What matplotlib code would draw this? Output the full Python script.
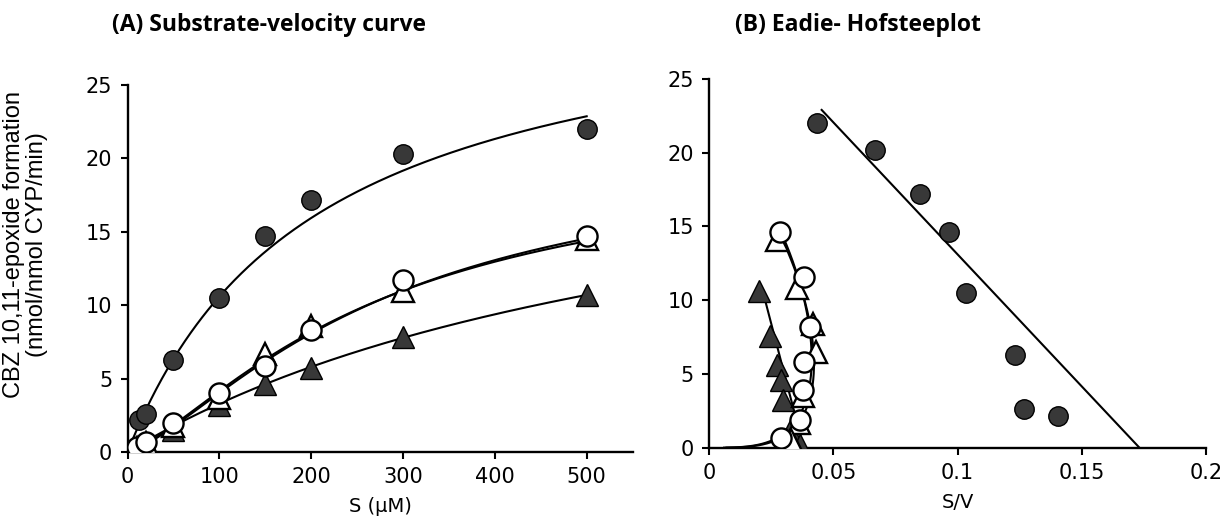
import numpy as np
import matplotlib
matplotlib.use("Agg")
import matplotlib.pyplot as plt

# ---- data ----
# (A) substrate-velocity: S (uM) vs V (nmol/nmol CYP/min)
s_filled_circle = [13, 20, 50, 100, 150, 200, 300, 500]
v_filled_circle = [2.2, 2.6, 6.3, 10.5, 14.7, 17.2, 20.3, 22.0]
s_conc = [10, 20, 50, 100, 150, 200, 300, 500]
v_open_circle = [0.35, 0.7, 2.0, 4.0, 5.85, 8.3, 11.7, 14.7]
v_open_tri = [0.3, 0.6, 1.8, 3.7, 6.7, 8.6, 11.0, 14.5]
v_filled_tri = [0.2, 0.5, 1.5, 3.2, 4.6, 5.7, 7.8, 10.7]

# (B) Eadie-Hofstee: x = S/V axis value, y = V
b_filled_circle_x = [0.0433, 0.0668, 0.085, 0.0966, 0.1035, 0.123, 0.1267, 0.1405]
b_filled_circle_y = [22.0, 20.2, 17.2, 14.6, 10.5, 6.3, 2.6, 2.15]
b_open_circle_x = [0.0283, 0.0381, 0.0405, 0.0382, 0.0378, 0.0365, 0.029]
b_open_circle_y = [14.65, 11.6, 8.2, 5.8, 3.9, 1.9, 0.63]
b_open_tri_x = [0.0274, 0.0354, 0.0419, 0.043, 0.0376, 0.036, 0.033]
b_open_tri_y = [14.1, 10.8, 8.4, 6.5, 3.5, 1.7, 0.5]
b_filled_tri_x = [0.0201, 0.0244, 0.0274, 0.0288, 0.0296, 0.0325, 0.0365]
b_filled_tri_y = [10.6, 7.6, 5.6, 4.6, 3.2, 1.1, 0.2]

# fitted kinetic parameters (Vmax, Km/S50, Hill n)
fit_filled_circle = (32.2, 204, 1.0)
fit_open_circle = (21.0, 280, 1.4)
fit_open_tri = (20.5, 270, 1.38)
fit_filled_tri = (24.5, 645, 1.0)
line_b_vmax, line_b_km = 31.0, 179.0   # straight line drawn in (B)


def hill(s, vmax, k, n):
    return vmax * s**n / (k**n + s**n)


plt.rcParams['font.family'] = 'DejaVu Sans'
fig = plt.figure(figsize=(12.25, 5.26), dpi=100)
ax1 = fig.add_axes([0.1041, 0.1407, 0.4123, 0.6977])
ax2 = fig.add_axes([0.5790, 0.1489, 0.4055, 0.7010])

dark = '#383838'
msz = 14
filled_c = dict(marker='o', ms=msz, mfc=dark, mec='black', mew=1, ls='none', zorder=5)
open_c = dict(marker='o', ms=msz + 0.5, mfc='white', mec='black', mew=1.7, ls='none', zorder=6)
filled_t = dict(marker='^', ms=msz + 1.5, mfc=dark, mec='black', mew=1, ls='none', zorder=4)
open_t = dict(marker='^', ms=msz + 1.5, mfc='white', mec='black', mew=1.7, ls='none', zorder=5)
curve = dict(color='black', lw=1.5, zorder=3)

# ---- panel A ----
s_fine = np.linspace(0, 500, 400)
for p in (fit_filled_circle, fit_open_circle, fit_open_tri, fit_filled_tri):
    ax1.plot(s_fine, hill(s_fine, *p), **curve)
ax1.plot(s_conc, v_filled_tri, **filled_t)
ax1.plot(s_conc, v_open_tri, **open_t)
ax1.plot(s_conc, v_open_circle, **open_c)
ax1.plot(s_filled_circle, v_filled_circle, **filled_c)
ax1.set_xlim(0, 550)
ax1.set_ylim(0, 25)
ax1.set_xticks([0, 100, 200, 300, 400, 500])
ax1.set_yticks([0, 5, 10, 15, 20, 25])
ax1.set_xlabel('S (\u03bcM)', fontsize=14, labelpad=7)

# ---- panel B ----
s_fine2 = np.linspace(0.5, 500, 800)
for p in (fit_open_circle, fit_open_tri, fit_filled_tri):
    v = hill(s_fine2, *p)
    ax2.plot(v / s_fine2, v, **curve)
v_line = np.linspace(0, 22.9, 50)
ax2.plot((line_b_vmax - v_line) / line_b_km, v_line, **curve)
ax2.plot(b_filled_tri_x, b_filled_tri_y, **filled_t)
ax2.plot(b_open_tri_x, b_open_tri_y, **open_t)
ax2.plot(b_open_circle_x, b_open_circle_y, **open_c)
ax2.plot(b_filled_circle_x, b_filled_circle_y, **filled_c)
ax2.set_xlim(0, 0.2)
ax2.set_ylim(0, 25)
ax2.set_xticks([0, 0.05, 0.1, 0.15, 0.2])
ax2.set_xticklabels(['0', '0.05', '0.1', '0.15', '0.2'])
ax2.set_yticks([0, 5, 10, 15, 20, 25])
ax2.set_xlabel('S/V', fontsize=14, labelpad=7)

for ax in (ax1, ax2):
    ax.spines['top'].set_visible(False)
    ax.spines['right'].set_visible(False)
    ax.spines['left'].set_linewidth(1.7)
    ax.spines['bottom'].set_linewidth(1.7)
    ax.tick_params(direction='out', length=5, width=1.5, labelsize=15, pad=6)
    for sp in ('left', 'bottom'):
        ax.spines[sp].set_clip_on(False)

fig.text(0.021, 0.536, 'CBZ 10,11-epoxide formation\n(nmol/nmol CYP/min)',
         rotation=90, ha='center', va='center', multialignment='center',
         fontsize=17, family='Liberation Sans', linespacing=1.05)

fig.text(112 / 1225, 1 - 25 / 526, '(A) Substrate-velocity curve',
         ha='left', va='center', fontsize=16.5, fontweight='bold', family='Open Sans')
fig.text(735 / 1225, 1 - 25 / 526, '(B) Eadie- Hofsteeplot',
         ha='left', va='center', fontsize=16.5, fontweight='bold', family='Open Sans')

fig.savefig('out.png', dpi=100)
